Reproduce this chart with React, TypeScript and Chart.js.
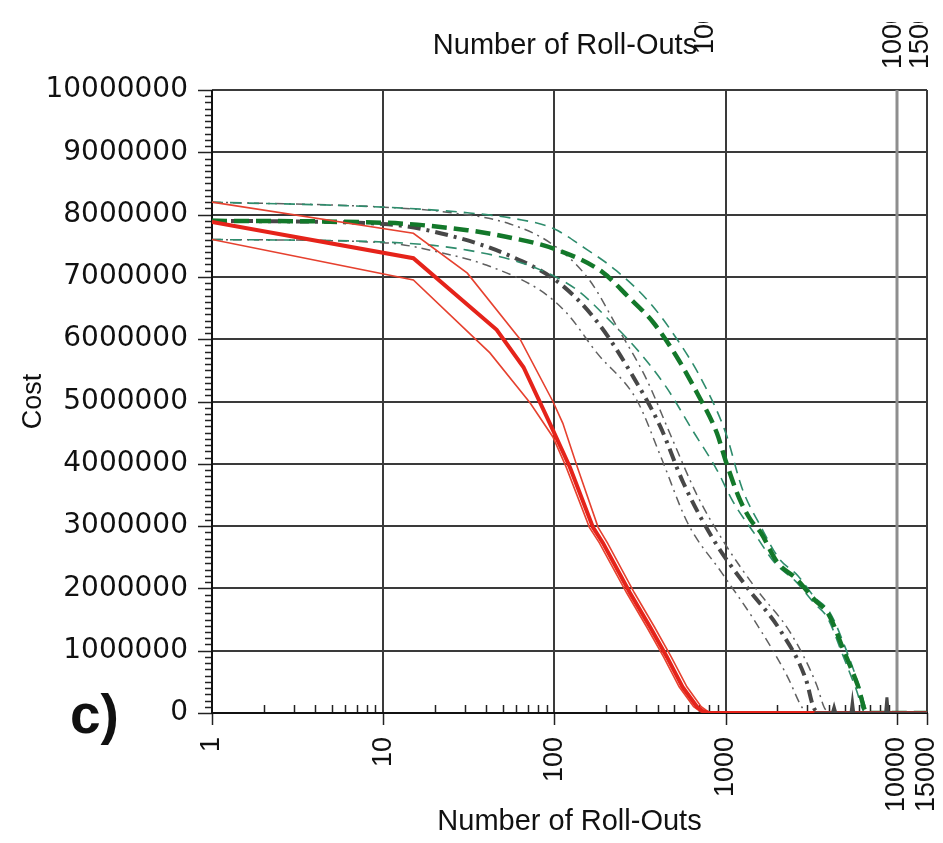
import React, { useEffect, useRef } from "react";
import { Chart, registerables } from "chart.js";

Chart.register(...registerables);

const W = 943;
const H = 843;

// Axis ticks
const xTickValues = [1, 10, 100, 1000, 10000, 15000];
const yTickStep = 1000000;
const yMax = 10000000;

// Labels of the panel above (only their lower ends show)
const topLabels = ["1000", "10000", "15000"];
const topLabelX = [706, 894, 921];

// Solid red: mean and the two bounds
const redMeanX = [1, 15, 46, 66, 94, 123, 168, 192, 276, 362, 454, 560, 680, 745, 800, 15000];
const redMeanY = [7880000, 7300000, 6150000, 5550000, 4650000, 3950000, 2980000, 2730000, 1930000, 1380000, 900000, 420000, 100000, 20000, 0, 0];
const redUpperX = [1, 15, 31, 63, 98, 112, 136, 180, 204, 293, 384, 481, 594, 720, 790, 830, 15000];
const redUpperY = [8200000, 7700000, 7060000, 6000000, 5000000, 4650000, 3950000, 2980000, 2730000, 1930000, 1380000, 900000, 420000, 100000, 20000, 0, 0];
const redLowerX = [1, 15, 42, 72, 98, 117, 160, 183, 264, 346, 434, 535, 650, 715, 770, 15000];
const redLowerY = [7600000, 6950000, 5780000, 4980000, 4430000, 3950000, 2980000, 2730000, 1930000, 1380000, 900000, 420000, 100000, 20000, 0, 0];

// Dash-dot grey: mean and the two bounds
const grayMeanX = [1, 10, 24, 57, 107, 180, 288, 415, 565, 850, 1330, 2080, 2950, 3250, 3450];
const grayMeanY = [7900000, 7850000, 7670000, 7320000, 6900000, 6260000, 5400000, 4600000, 3700000, 2780000, 2020000, 1330000, 530000, 100000, 0];
const grayUpperX = [1, 10, 25, 55, 100, 160, 232, 346, 472, 680, 1000, 1500, 2400, 3400, 3750, 3950];
const grayUpperY = [8200000, 8120000, 8030000, 7850000, 7500000, 6950000, 6200000, 5350000, 4490000, 3500000, 2700000, 2000000, 1280000, 450000, 100000, 0];
const grayLowerX = [1, 10, 25, 40, 82, 118, 177, 303, 420, 600, 950, 1500, 2300, 2750, 2950];
const grayLowerY = [7600000, 7550000, 7350000, 7190000, 6790000, 6420000, 5780000, 5020000, 4100000, 3050000, 2250000, 1450000, 580000, 120000, 0];
const grayTailX = [3300, 4200, 4300, 4400, 5400, 5500, 5600, 8600, 8750, 8900, 15000];
const grayTailY = [0, 0, 100000, 0, 0, 180000, 0, 0, 250000, 0, 0];

// Dashed green: mean and the two bounds
const greenMeanX = [1, 10, 31, 53, 100, 190, 270, 380, 520, 680, 890, 1000, 1200, 1400, 1600, 2000, 2600, 3300, 4000, 4900, 5900, 6700, 15000];
const greenMeanY = [7900000, 7870000, 7750000, 7640000, 7450000, 7080000, 6680000, 6260000, 5710000, 5140000, 4490000, 4050000, 3450000, 3100000, 2900000, 2420000, 2150000, 1820000, 1580000, 1000000, 450000, 0, 0];
const greenUpperX = [1, 10, 31, 60, 98, 147, 230, 362, 520, 708, 1000, 1250, 1600, 2050, 2650, 3300, 4050, 5000, 6000, 6850, 15000];
const greenUpperY = [8200000, 8120000, 8030000, 7930000, 7780000, 7480000, 7100000, 6580000, 6000000, 5400000, 4500000, 3600000, 3000000, 2480000, 2200000, 1860000, 1620000, 1050000, 450000, 0, 0];
const greenLowerX = [1, 10, 31, 75, 134, 210, 316, 450, 640, 890, 1100, 1500, 1950, 2550, 3250, 3950, 4800, 5750, 6550, 15000];
const greenLowerY = [7600000, 7560000, 7430000, 7160000, 6800000, 6300000, 5780000, 5230000, 4540000, 3900000, 3400000, 2850000, 2400000, 2120000, 1780000, 1520000, 950000, 400000, 0, 0];

const pts = (xs: number[], ys: number[]) => xs.map((x, i) => ({ x, y: ys[i] }));

const RED = "#e5231a";
const RED_THIN = "#e6412f";
const GREEN = "#13782a";
const GREEN_THIN = "#2e8c6c";
const GRAY = "#474747";
const GRAY_THIN = "#606060";

const line = (ctx: CanvasRenderingContext2D, x1: number, y1: number, x2: number, y2: number) => {
  ctx.beginPath();
  ctx.moveTo(x1, y1);
  ctx.lineTo(x2, y2);
  ctx.stroke();
};

// Grid, axis lines and tick marks, drawn under the curves
const framePlugin = {
  id: "frame",
  beforeDatasetsDraw(chart: any) {
    const { ctx, chartArea: a, scales } = chart;
    const xs = scales.x;
    const ys = scales.y;
    ctx.save();
    ctx.lineCap = "butt";

    // horizontal grid
    ctx.strokeStyle = "#3a3a3a";
    ctx.lineWidth = 2;
    for (const t of ys.ticks) {
      if (t.value === 0) continue;
      const y = Math.round(ys.getPixelForValue(t.value));
      line(ctx, a.left, y, a.right, y);
    }
    // vertical grid
    for (const v of xTickValues) {
      if (v === 1) continue;
      const x = Math.round(xs.getPixelForValue(v));
      if (v === 10000) {
        ctx.strokeStyle = "#8e8e8e";
        ctx.lineWidth = 3;
      } else {
        ctx.strokeStyle = "#3a3a3a";
        ctx.lineWidth = 2;
      }
      line(ctx, x, a.top, x, a.bottom);
    }

    // y ticks: major outside to the left, minor every 100000
    ctx.strokeStyle = "#222";
    ctx.lineWidth = 1.5;
    for (let i = 0; i <= 100; i++) {
      const v = i * 100000;
      const y = Math.round(ys.getPixelForValue(v)) + 0.5;
      const len = i % 10 === 0 ? 14 : 7;
      line(ctx, a.left - len, y, a.left, y);
    }
    // x ticks: major below the axis, minor inside
    for (const v of xTickValues) {
      const x = Math.round(xs.getPixelForValue(v)) + 0.5;
      line(ctx, x, a.bottom, x, a.bottom + 12);
    }
    for (const d of [1, 10, 100, 1000]) {
      for (let k = 2; k <= 9; k++) {
        const x = Math.round(xs.getPixelForValue(d * k)) + 0.5;
        line(ctx, x, a.bottom - 8, x, a.bottom);
      }
    }

    // axis lines
    ctx.strokeStyle = "#111";
    ctx.lineWidth = 2;
    line(ctx, a.left, a.top, a.left, a.bottom + 1);
    line(ctx, a.left - 1, a.bottom, a.right + 1, a.bottom);
    ctx.restore();
  },
  afterDraw(chart: any) {
    const { ctx } = chart;
    ctx.save();
    ctx.fillStyle = "#111";

    // lower ends of the labels of the panel above
    ctx.save();
    ctx.beginPath();
    ctx.rect(0, 22, W, 70);
    ctx.clip();
    ctx.font = '27px "Liberation Sans"';
    ctx.textAlign = "right";
    ctx.textBaseline = "middle";
    topLabels.forEach((t, i) => {
      ctx.save();
      ctx.translate(topLabelX[i], -6);
      ctx.rotate(-Math.PI / 2);
      ctx.fillText(t, 0, 0);
      ctx.restore();
    });
    ctx.restore();

    ctx.font = '29px "Liberation Sans"';
    ctx.textAlign = "center";
    ctx.textBaseline = "middle";
    ctx.fillText("Number of Roll-Outs", 565, 46);

    ctx.font = 'bold 55px "Liberation Sans"';
    ctx.textAlign = "left";
    ctx.textBaseline = "alphabetic";
    ctx.fillText("c)", 70, 733);
    ctx.restore();
  },
};

export default function App() {
  const ref = useRef<HTMLCanvasElement | null>(null);

  useEffect(() => {
    if (!ref.current) return;
    const mono = { cubicInterpolationMode: "monotone" as const };
    const chart = new Chart(ref.current, {
      type: "line",
      data: {
        datasets: [
          { data: pts(grayTailX, grayTailY), borderColor: GRAY, borderWidth: 3, tension: 0, order: 0 },
          { data: pts(redMeanX, redMeanY), borderColor: RED, borderWidth: 4, tension: 0, order: 1 },
          { data: pts(redUpperX, redUpperY), borderColor: RED_THIN, borderWidth: 1.6, tension: 0, order: 2 },
          { data: pts(redLowerX, redLowerY), borderColor: RED_THIN, borderWidth: 1.6, tension: 0, order: 2 },
          { data: pts(greenMeanX, greenMeanY), borderColor: GREEN, borderWidth: 4.5, borderDash: [15, 7], order: 3, ...mono },
          { data: pts(greenUpperX, greenUpperY), borderColor: GREEN_THIN, borderWidth: 1.6, borderDash: [11, 7], order: 4, ...mono },
          { data: pts(greenLowerX, greenLowerY), borderColor: GREEN_THIN, borderWidth: 1.6, borderDash: [11, 7], order: 4, ...mono },
          { data: pts(grayMeanX, grayMeanY), borderColor: GRAY, borderWidth: 4, borderDash: [13, 6, 3, 6], order: 5, ...mono },
          { data: pts(grayUpperX, grayUpperY), borderColor: GRAY_THIN, borderWidth: 1.5, borderDash: [9, 5, 2, 5], order: 6, ...mono },
          { data: pts(grayLowerX, grayLowerY), borderColor: GRAY_THIN, borderWidth: 1.5, borderDash: [9, 5, 2, 5], order: 6, ...mono },
        ],
      },
      options: {
        responsive: false,
        animation: false,
        devicePixelRatio: 1,
        layout: { padding: { top: 90, right: 16, left: 0, bottom: 0 } },
        elements: { point: { radius: 0 } },
        plugins: { legend: { display: false }, tooltip: { enabled: false }, title: { display: false } },
        scales: {
          x: {
            type: "logarithmic",
            min: 1,
            max: 15000,
            grid: { display: false },
            border: { display: false },
            afterBuildTicks: (s: any) => {
              s.ticks = xTickValues.map((v) => ({ value: v }));
            },
            afterFit: (s: any) => {
              s.height = 130;
              s.paddingLeft = 0;
              s.paddingRight = 0;
            },
            ticks: {
              autoSkip: false,
              minRotation: 90,
              maxRotation: 90,
              padding: 16,
              color: "#111",
              font: { family: "Liberation Sans", size: 27 },
              callback: (v: any) => String(v),
            },
            title: {
              display: true,
              text: "Number of Roll-Outs",
              color: "#111",
              font: { family: "Liberation Sans", size: 29 },
              padding: { top: 0, bottom: 4 },
            },
          },
          y: {
            type: "linear",
            min: 0,
            max: yMax,
            grid: { display: false },
            border: { display: false },
            afterFit: (s: any) => {
              s.width = 212;
              s.paddingTop = 0;
              s.paddingBottom = 0;
            },
            ticks: {
              stepSize: yTickStep,
              padding: 16,
              color: "#111",
              font: { family: "DejaVu Sans", size: 28 },
              callback: (v: any) => String(v),
            },
            title: {
              display: true,
              text: "Cost",
              color: "#111",
              font: { family: "Liberation Sans", size: 27 },
              padding: { top: 17, bottom: 0 },
            },
          },
        },
      },
      plugins: [framePlugin],
    });
    return () => chart.destroy();
  }, []);

  return (
    <div style={{ position: "absolute", left: 0, top: 0, width: W, height: H, background: "#fff" }}>
      <canvas ref={ref} width={W} height={H} style={{ display: "block" }} />
    </div>
  );
}
